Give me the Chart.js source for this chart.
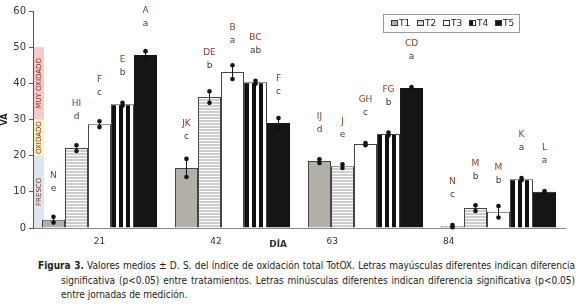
<!DOCTYPE html>
<html>
<head>
<meta charset="utf-8">
<script src="https://cdn.jsdelivr.net/npm/chart.js@4/dist/chart.umd.min.js"></script>
<style>
    body {margin: 0; background: #fff; width: 580px; height: 307px; overflow: hidden;}
    #wrap {position: absolute; left: 0; top: 0; width: 580px; height: 252px;}
    #cap {
        position: absolute; left: 38px; top: 259px; width: 514px;
        padding-left: 23px; text-indent: -23px;
        font-family: "DejaVu Sans Condensed", "DejaVu Sans", sans-serif;
        font-size: 10px; line-height: 14.5px; color: #222; text-align: justify;
    }
</style>
</head>
<body>
<div id="wrap"><canvas id="chart" width="580" height="252"></canvas></div>
<div id="cap"><b>Figura 3.</b> Valores medios ± D. S. del índice de oxidación total TotOX. Letras mayúsculas diferentes indican diferencia significativa (p&lt;0.05) entre tratamientos. Letras minúsculas diferentes indican diferencia significativa (p&lt;0.05) entre jornadas de medición.</div>
<script>
// dias de medicion
const days = ['21', '42', '63', '84'];
const seriesNames = ['T1', 'T2', 'T3', 'T4', 'T5'];

// valores medios
const t1 = [2.3, 16.6, 18.5, 0.5];
const t2 = [22.1, 36.2, 17.1, 5.5];
const t3 = [28.7, 43.1, 23.2, 4.5];
const t4 = [34.2, 40.3, 26.0, 13.5];
const t5 = [47.8, 29.0, 38.7, 10.0];

// desviacion estandar
const sd1 = [0.8, 2.5, 0.5, 0.3];
const sd2 = [0.8, 1.6, 0.5, 0.8];
const sd3 = [0.8, 1.9, 0.3, 1.6];
const sd4 = [0.4, 0.4, 0.4, 0.3];
const sd5 = [1.1, 1.4, 0.3, 0.2];

// letras (mayusculas: tratamientos, minusculas: jornadas)
const upper1 = ['N', 'JK', 'IJ', 'N'];
const upper2 = ['HI', 'DE', 'J', 'M'];
const upper3 = ['F', 'B', 'GH', 'M'];
const upper4 = ['E', 'BC', 'FG', 'K'];
const upper5 = ['A', 'F', 'CD', 'L'];
const lower1 = ['e', 'c', 'd', 'c'];
const lower2 = ['d', 'b', 'e', 'b'];
const lower3 = ['c', 'a', 'c', 'b'];
const lower4 = ['b', 'ab', 'b', 'a'];
const lower5 = ['a', 'c', 'a', 'a'];

// zonas de oxidacion en el eje
const zoneLabels = ['FRESCO', 'OXIDADO', 'MUY OXIDADO'];
const zoneFrom = [0, 20, 30];
const zoneTo = [20, 30, 50];
const zoneColors = ['#dde5f1', '#fcf2c6', '#f6caca'];

const yTicks = [0, 10, 20, 30, 40, 50, 60];

function hStripes() {
    let c = document.createElement('canvas');
    c.width = 4; c.height = 3;
    let g = c.getContext('2d');
    g.fillStyle = '#ffffff';
    g.fillRect(0, 0, 4, 3);
    g.fillStyle = '#cdcdcd';
    g.fillRect(0, 0, 4, 2);
    return g.createPattern(c, 'repeat');
}

function vStripes() {
    let c = document.createElement('canvas');
    c.width = 7; c.height = 4;
    let g = c.getContext('2d');
    g.fillStyle = '#ffffff';
    g.fillRect(0, 0, 7, 4);
    g.fillStyle = '#111111';
    g.fillRect(0, 0, 4, 4);
    return g.createPattern(c, 'repeat');
}

const values = [t1, t2, t3, t4, t5];
const sds = [sd1, sd2, sd3, sd4, sd5];
const uppers = [upper1, upper2, upper3, upper4, upper5];
const lowers = [lower1, lower2, lower3, lower4, lower5];
const fills = ['#b3afa8', hStripes(), '#ffffff', vStripes(), '#151515'];

const FONT = '"DejaVu Sans", Verdana, sans-serif';

// fondo de colores junto al eje y
const zonePlugin = {
    id: 'zones',
    beforeDatasetsDraw(chart) {
        const ctx = chart.ctx, y = chart.scales.y, left = chart.chartArea.left;
        ctx.save();
        for (let i = 0; i < zoneLabels.length; i++) {
            let top = y.getPixelForValue(zoneTo[i]);
            let bot = y.getPixelForValue(zoneFrom[i]);
            ctx.fillStyle = zoneColors[i];
            ctx.fillRect(left + 1, top, 10, bot - top);
            ctx.save();
            ctx.translate(left + 6.5, (top + bot) / 2);
            ctx.rotate(-Math.PI / 2);
            ctx.fillStyle = '#7a2c18';
            ctx.font = '7px ' + FONT;
            ctx.textAlign = 'center';
            ctx.textBaseline = 'middle';
            ctx.fillText(zoneLabels[i], 0, 0);
            ctx.restore();
        }
        ctx.restore();
    }
};

// barras de error, letras, etiquetas del eje x y leyenda
const extrasPlugin = {
    id: 'extras',
    afterDatasetsDraw(chart) {
        const ctx = chart.ctx, y = chart.scales.y, x = chart.scales.x;
        ctx.save();
        chart.data.datasets.forEach((ds, di) => {
            const meta = chart.getDatasetMeta(di);
            meta.data.forEach((bar, i) => {
                let v = values[di][i], sd = sds[di][i];
                let yHi = y.getPixelForValue(v + sd), yLo = y.getPixelForValue(Math.max(0, v - sd));
                ctx.strokeStyle = '#111';
                ctx.fillStyle = '#111';
                ctx.lineWidth = 1;
                ctx.beginPath();
                ctx.moveTo(bar.x, yHi);
                ctx.lineTo(bar.x, yLo);
                ctx.stroke();
                [yHi, yLo].forEach(py => {
                    ctx.beginPath();
                    ctx.arc(bar.x, py, 2.3, 0, Math.PI * 2);
                    ctx.fill();
                });
                ctx.textAlign = 'center';
                ctx.textBaseline = 'middle';
                ctx.font = '9px ' + FONT;
                ctx.fillStyle = '#8e3a1e';
                ctx.fillText(uppers[di][i], bar.x, y.getPixelForValue(v + 12.3));
                ctx.fillStyle = '#45382c';
                ctx.fillText(lowers[di][i], bar.x, y.getPixelForValue(v + 8.7));
            });
        });

        // etiquetas de dias (como en el original, algo desplazadas)
        ctx.fillStyle = '#333';
        ctx.font = '9px ' + FONT;
        ctx.textAlign = 'center';
        ctx.textBaseline = 'middle';
        let first = x.getPixelForValue(0);
        let step = (x.getPixelForValue(1) - first) * 0.875;
        days.forEach((d, i) => ctx.fillText(d, first + i * step, chart.chartArea.bottom + 14));
        ctx.font = 'bold 9px ' + FONT;
        ctx.fillText('DÍA', first + 1.5 * step + 4, chart.chartArea.bottom + 17);

        // leyenda
        ctx.font = '9px ' + FONT;
        ctx.textAlign = 'left';
        let lx = chart.chartArea.right - 182, ly = chart.chartArea.top + 3;
        let lw = 136, lh = 18;
        ctx.fillStyle = '#fff';
        ctx.fillRect(lx, ly, lw, lh);
        ctx.strokeStyle = '#999';
        ctx.strokeRect(lx + 0.5, ly + 0.5, lw, lh);
        let cx = lx + 8;
        chart.data.datasets.forEach((ds, di) => {
            ctx.fillStyle = ds.backgroundColor;
            ctx.fillRect(cx, ly + 6, 7, 6);
            ctx.strokeStyle = '#333';
            ctx.strokeRect(cx + 0.5, ly + 6.5, 6, 5);
            ctx.fillStyle = '#222';
            ctx.fillText(ds.label, cx + 8, ly + 9.5);
            cx += 26;
        });
        ctx.restore();
    }
};

const datasets = seriesNames.map((name, i) => ({
    label: name,
    data: values[i],
    backgroundColor: fills[i],
    borderColor: i === 4 ? '#151515' : '#444',
    borderWidth: 1,
    barPercentage: 1.0,
    categoryPercentage: 0.865
}));

new Chart(document.getElementById('chart'), {
    type: 'bar',
    data: {labels: days, datasets: datasets},
    options: {
        responsive: false,
        animation: false,
        layout: {padding: {left: 0, right: 15, top: 11, bottom: 0}},
        plugins: {legend: {display: false}, tooltip: {enabled: false}},
        scales: {
            x: {
                grid: {display: false},
                border: {color: '#888'},
                ticks: {display: false},
                afterFit: (s) => { s.height = 24; }
            },
            y: {
                min: 0, max: 60,
                afterBuildTicks: (s) => { s.ticks = yTicks.map(v => ({value: v})); },
                afterFit: (s) => { s.width = 33; },
                grid: {drawOnChartArea: false, drawTicks: true, tickLength: 4, color: '#555'},
                border: {color: '#555'},
                ticks: {color: '#333', font: {family: FONT, size: 10}, padding: 3},
                title: {display: true, text: 'VA', color: '#222', font: {family: FONT, size: 8, weight: 'bold'}, padding: {top: 0, bottom: 0}}
            }
        }
    },
    plugins: [zonePlugin, extrasPlugin]
});
</script>
</body>
</html>
